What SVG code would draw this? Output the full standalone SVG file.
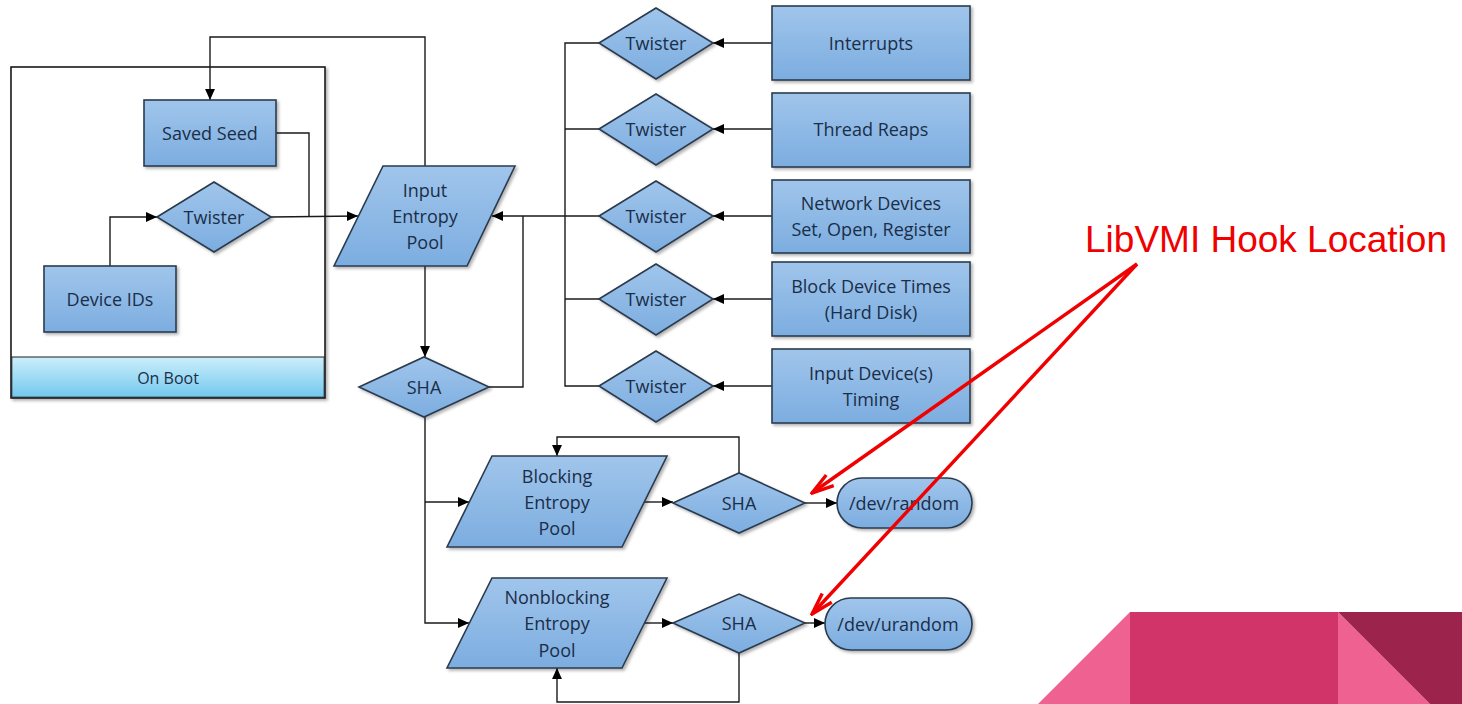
<svg xmlns="http://www.w3.org/2000/svg" width="1462" height="704" viewBox="0 0 1462 704">
<defs>
<linearGradient id="nodeFill" x1="0" y1="0" x2="0" y2="1">
<stop offset="0" stop-color="#a0c5eb"/>
<stop offset="1" stop-color="#7cade0"/>
</linearGradient>
<linearGradient id="bootFill" x1="0" y1="0" x2="0" y2="1">
<stop offset="0" stop-color="#cdeefb"/>
<stop offset="1" stop-color="#72c9ee"/>
</linearGradient>
<filter id="shadow" x="-10%" y="-10%" width="125%" height="130%">
<feDropShadow dx="2" dy="2" stdDeviation="1.5" flood-color="#000" flood-opacity="0.3"/>
</filter>
<marker id="arr" viewBox="0 0 10 10" refX="10" refY="5" markerWidth="11" markerHeight="11" markerUnits="userSpaceOnUse" orient="auto">
<path d="M0,0.5 L10,5 L0,9.5 z" fill="#000"/>
</marker>
<marker id="redArr" viewBox="0 0 26 16" refX="24" refY="8" markerWidth="26" markerHeight="16" markerUnits="userSpaceOnUse" orient="auto">
<path d="M2,1.5 L24,8 L2,14.5" fill="none" stroke="#f00000" stroke-width="3.4" stroke-linejoin="miter"/>
</marker>
</defs>
<style>
.node{fill:url(#nodeFill);stroke:#2b3b4e;stroke-width:1.6;filter:url(#shadow)}
.lbl{font-family:"Open Sans","Liberation Sans",sans-serif;font-size:18px;fill:#1a2e48;text-anchor:middle;dominant-baseline:central}
.con{fill:none;stroke:#1a1a1a;stroke-width:1.4}
.red{fill:none;stroke:#f00000;stroke-width:3.4}
</style>
<rect width="1462" height="704" fill="#ffffff"/>

<!-- decorative -->
<g id="decor">
<polygon points="1038,704 1130,612 1130,704" fill="#ef6191"/>
<rect x="1130" y="612" width="208" height="92" fill="#d03468"/>
<polygon points="1338,612 1430,704 1338,704" fill="#ef6191"/>
<polygon points="1338,612 1462,612 1462,704 1430,704" fill="#9c234c"/>
</g>

<!-- On Boot container -->
<g id="onboot">
<rect x="11" y="67" width="314" height="331" fill="#ffffff" stroke="#1a1a1a" stroke-width="1.6" filter="url(#shadow)"/>
<rect x="11.8" y="357" width="312.4" height="40.2" fill="url(#bootFill)" stroke="#1a1a1a" stroke-width="1"/>
<text class="lbl" x="168" y="378" style="font-size:16px">On Boot</text>
</g>

<!-- connectors -->
<g id="connectors">
<polyline class="con" points="425,166 425,37 210,37 210,100" marker-end="url(#arr)"/>
<polyline class="con" points="276,133 309,133 309,217"/>
<polyline class="con" points="110,266 110,217 157,217" marker-end="url(#arr)"/>
<polyline class="con" points="271,217 358,216" marker-end="url(#arr)"/>
<polyline class="con" points="425,266 425,357" marker-end="url(#arr)"/>
<polyline class="con" points="489,387 523,387 523,216"/>
<polyline class="con" points="599,216 492,216" marker-end="url(#arr)"/>
<polyline class="con" points="599,43 565,43 565,386 599,386"/>
<polyline class="con" points="565,129 599,129"/>
<polyline class="con" points="565,299 599,299"/>
<polyline class="con" points="772,43 713,43" marker-end="url(#arr)"/>
<polyline class="con" points="772,129 713,129" marker-end="url(#arr)"/>
<polyline class="con" points="772,216 713,216" marker-end="url(#arr)"/>
<polyline class="con" points="772,299 713,299" marker-end="url(#arr)"/>
<polyline class="con" points="772,386 713,386" marker-end="url(#arr)"/>
<polyline class="con" points="425,417 425,623 469,623" marker-end="url(#arr)"/>
<polyline class="con" points="425,502 469,502" marker-end="url(#arr)"/>
<polyline class="con" points="644,502 673,502" marker-end="url(#arr)"/>
<polyline class="con" points="644,623 673,623" marker-end="url(#arr)"/>
<polyline class="con" points="739,473 739,437 557,437 557,456" marker-end="url(#arr)"/>
<polyline class="con" points="739,653 739,702 557,702 557,668" marker-end="url(#arr)"/>
<polyline class="con" points="805,503 837,503" marker-end="url(#arr)"/>
<polyline class="con" points="805,623 825,623" marker-end="url(#arr)"/>
</g>

<!-- nodes -->
<g id="saved-seed"><rect class="node" x="144" y="100" width="132" height="66"/><text class="lbl" x="210" y="133">Saved Seed</text></g>
<g id="boot-twister"><polygon class="node" points="157,217 214,182 271,217 214,252"/><text class="lbl" x="214" y="217">Twister</text></g>
<g id="device-ids"><rect class="node" x="44" y="266" width="132" height="66"/><text class="lbl" x="110" y="299">Device IDs</text></g>

<g id="input-pool"><polygon class="node" points="383,166 515,166 467,266 334,266"/>
<text class="lbl" x="425" y="190">Input</text><text class="lbl" x="425" y="216">Entropy</text><text class="lbl" x="425" y="242">Pool</text></g>
<g id="sha-main"><polygon class="node" points="359,387 424,357 489,387 424,417"/><text class="lbl" x="424" y="387">SHA</text></g>

<g id="twister-1"><polygon class="node" points="599,43 656,8 713,43 656,79"/><text class="lbl" x="656" y="43">Twister</text></g>
<g id="twister-2"><polygon class="node" points="599,129 656,94 713,129 656,165"/><text class="lbl" x="656" y="129">Twister</text></g>
<g id="twister-3"><polygon class="node" points="599,216 656,181 713,216 656,252"/><text class="lbl" x="656" y="216">Twister</text></g>
<g id="twister-4"><polygon class="node" points="599,299 656,264 713,299 656,335"/><text class="lbl" x="656" y="299">Twister</text></g>
<g id="twister-5"><polygon class="node" points="599,386 656,351 713,386 656,422"/><text class="lbl" x="656" y="386">Twister</text></g>

<g id="interrupts"><rect class="node" x="772" y="6" width="198" height="74"/><text class="lbl" x="871" y="43">Interrupts</text></g>
<g id="thread-reaps"><rect class="node" x="772" y="93" width="198" height="74"/><text class="lbl" x="871" y="129">Thread Reaps</text></g>
<g id="network-devices"><rect class="node" x="772" y="180" width="198" height="73"/><text class="lbl" x="871" y="203">Network Devices</text><text class="lbl" x="871" y="229">Set, Open, Register</text></g>
<g id="block-device"><rect class="node" x="772" y="262" width="198" height="74"/><text class="lbl" x="871" y="286">Block Device Times</text><text class="lbl" x="871" y="312">(Hard Disk)</text></g>
<g id="input-devices"><rect class="node" x="772" y="349" width="198" height="74"/><text class="lbl" x="871" y="373">Input Device(s)</text><text class="lbl" x="871" y="399">Timing</text></g>

<g id="blocking-pool"><polygon class="node" points="492,456 667,456 622,547 447,547"/>
<text class="lbl" x="557" y="476">Blocking</text><text class="lbl" x="557" y="502">Entropy</text><text class="lbl" x="557" y="528">Pool</text></g>
<g id="nonblocking-pool"><polygon class="node" points="492,578 667,578 622,668 447,668"/>
<text class="lbl" x="557" y="597">Nonblocking</text><text class="lbl" x="557" y="623">Entropy</text><text class="lbl" x="557" y="650">Pool</text></g>

<g id="sha-blocking"><polygon class="node" points="673,503 739,473 805,503 739,533"/><text class="lbl" x="739" y="503">SHA</text></g>
<g id="sha-nonblocking"><polygon class="node" points="673,623 739,594 805,623 739,653"/><text class="lbl" x="739" y="623">SHA</text></g>

<g id="dev-random"><rect class="node" x="837" y="478" width="135" height="50" rx="25" ry="25"/><text class="lbl" x="904" y="503">/dev/random</text></g>
<g id="dev-urandom"><rect class="node" x="825" y="598" width="147" height="52" rx="26" ry="26"/><text class="lbl" x="898" y="624">/dev/urandom</text></g>

<!-- annotation -->
<g id="libvmi">
<text x="1266" y="252" font-family="Liberation Sans, Arial, sans-serif" font-size="37" fill="#f00000" text-anchor="middle">LibVMI Hook Location</text>
<line class="red" x1="1137" y1="264" x2="812" y2="493" marker-end="url(#redArr)"/>
<line class="red" x1="1137" y1="264" x2="812" y2="614" marker-end="url(#redArr)"/>
</g>
</svg>
